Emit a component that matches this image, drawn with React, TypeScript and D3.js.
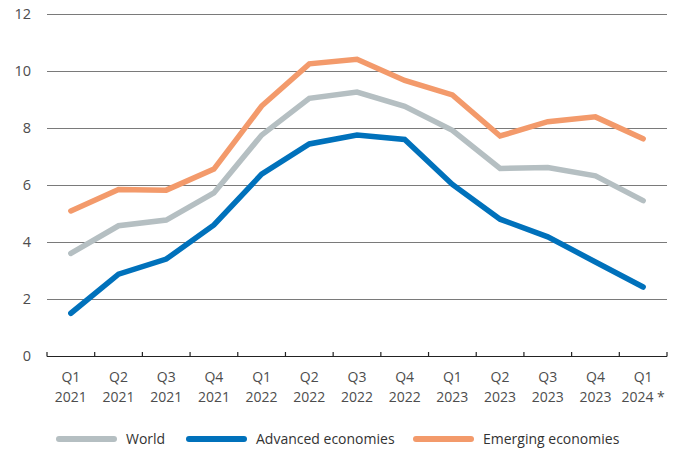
import { useEffect, useRef } from "react";
import * as d3 from "d3";

const quarters = ["Q1", "Q2", "Q3", "Q4", "Q1", "Q2", "Q3", "Q4", "Q1", "Q2", "Q3", "Q4", "Q1"];
const years = ["2021", "2021", "2021", "2021", "2022", "2022", "2022", "2022", "2023", "2023", "2023", "2023", "2024 *"];

const world = [3.6, 4.57, 4.77, 5.72, 7.75, 9.04, 9.26, 8.76, 7.92, 6.58, 6.61, 6.32, 5.45];
const advanced = [1.5, 2.87, 3.4, 4.6, 6.38, 7.44, 7.75, 7.6, 6.02, 4.8, 4.18, 3.3, 2.42];
const emerging = [5.09, 5.84, 5.82, 6.56, 8.77, 10.25, 10.41, 9.67, 9.16, 7.72, 8.22, 8.39, 7.62];

const yTicks = [0, 2, 4, 6, 8, 10, 12];

const series = [
  { name: "World", values: world, color: "#b5bfc2" },
  { name: "Advanced economies", values: advanced, color: "#0071bb" },
  { name: "Emerging economies", values: emerging, color: "#f39a6b" },
];

export default function App() {
  const svgRef = useRef<SVGSVGElement>(null);

  useEffect(() => {
    if (!svgRef.current) return;
    const width = 678;
    const height = 450;
    const left = 47;
    const right = 667;
    const top = 14;
    const bottom = 356;

    const svg = d3.select(svgRef.current);
    svg.selectAll("*").remove();
    svg.attr("viewBox", `0 0 ${width} ${height}`);

    const idx = quarters.map((_, i) => String(i));
    const x = d3.scaleBand<string>().domain(idx).range([left, right]);
    const y = d3.scaleLinear().domain([0, 12]).range([bottom, top]);

    const font = "'Open Sans', sans-serif";
    const textColor = "#4d4d4d";

    // gridlines
    svg
      .append("g")
      .selectAll("line")
      .data(yTicks.filter((t) => t > 0))
      .join("line")
      .attr("x1", left)
      .attr("x2", right)
      .attr("y1", (d) => y(d) + 0.5)
      .attr("y2", (d) => y(d) + 0.5)
      .attr("stroke", "#7a7a7a")
      .attr("stroke-width", 1);

    // y labels
    svg
      .append("g")
      .selectAll("text")
      .data(yTicks)
      .join("text")
      .attr("x", 31)
      .attr("y", (d) => y(d))
      .attr("dy", "0.36em")
      .attr("text-anchor", "end")
      .attr("font-family", font)
      .attr("font-size", 14.5)
      .attr("fill", textColor)
      .text((d) => d);

    // x axis
    const axisG = svg.append("g");
    axisG
      .append("line")
      .attr("x1", left)
      .attr("x2", right)
      .attr("y1", bottom + 0.5)
      .attr("y2", bottom + 0.5)
      .attr("stroke", "#222")
      .attr("stroke-width", 1.2);
    const edges = [...idx.map((d) => x(d)!), right];
    axisG
      .selectAll("line.tick")
      .data(edges)
      .join("line")
      .attr("class", "tick")
      .attr("x1", (d) => d)
      .attr("x2", (d) => d)
      .attr("y1", bottom - 4)
      .attr("y2", bottom + 0.5)
      .attr("stroke", "#222")
      .attr("stroke-width", 1.2);

    const labels = axisG
      .selectAll("text")
      .data(idx)
      .join("text")
      .attr("text-anchor", "middle")
      .attr("font-family", font)
      .attr("font-size", 14)
      .attr("fill", textColor);
    labels
      .append("tspan")
      .attr("x", (d) => x(d)! + x.bandwidth() / 2)
      .attr("y", 382)
      .text((d) => quarters[+d]);
    labels
      .append("tspan")
      .attr("x", (d) => x(d)! + x.bandwidth() / 2)
      .attr("y", 402)
      .text((d) => years[+d]);

    // lines
    const line = d3
      .line<number>()
      .x((_, i) => x(String(i))! + x.bandwidth() / 2)
      .y((d) => y(d));

    svg
      .append("g")
      .selectAll("path")
      .data(series)
      .join("path")
      .attr("d", (s) => line(s.values))
      .attr("fill", "none")
      .attr("stroke", (s) => s.color)
      .attr("stroke-width", 5.5)
      .attr("stroke-linejoin", "miter")
      .attr("stroke-linecap", "round");

    // legend
    const legendX = [59, 189, 416];
    const leg = svg
      .append("g")
      .selectAll("g")
      .data(series)
      .join("g")
      .attr("transform", (_, i) => `translate(${legendX[i]},439)`);
    leg
      .append("line")
      .attr("x1", 0)
      .attr("x2", 55)
      .attr("stroke", (s) => s.color)
      .attr("stroke-width", 6)
      .attr("stroke-linecap", "round");
    leg
      .append("text")
      .attr("x", 67)
      .attr("dy", "0.36em")
      .attr("font-family", font)
      .attr("font-size", 14)
      .attr("fill", "#333")
      .text((s) => s.name);
  }, []);

  return (
    <svg
      ref={svgRef}
      width={678}
      height={450}
      style={{ position: "absolute", left: 0, top: 0, background: "#fff" }}
    />
  );
}
